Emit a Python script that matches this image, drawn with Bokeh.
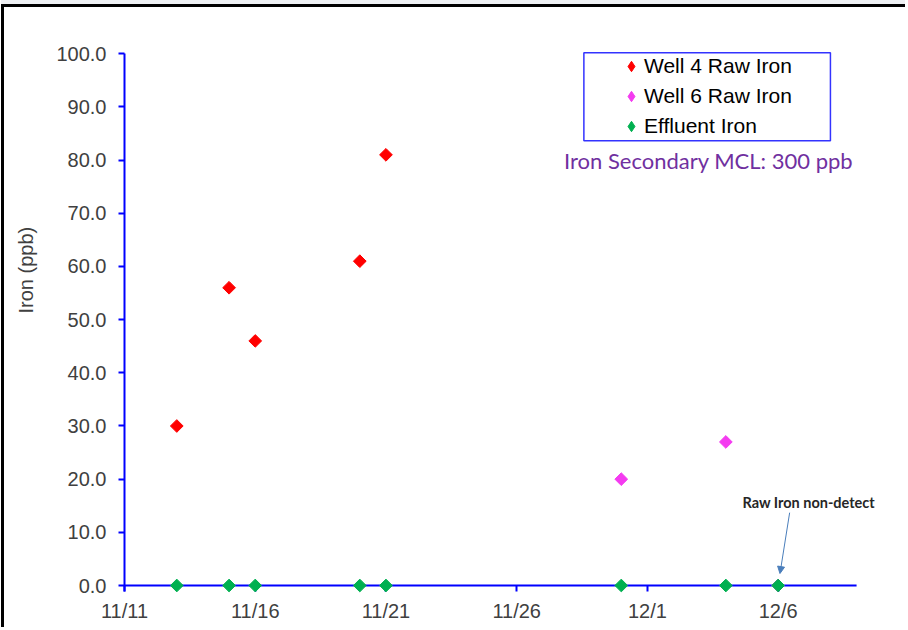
import math
import datetime as dt
from bokeh.plotting import figure
from bokeh.models import (FixedTicker, PrintfTickFormatter, Range1d, Legend, LegendItem, Title,
                          LinearAxis, BoxAnnotation, Label, Arrow, NormalHead)
from bokeh.embed import file_html
from bokeh.resources import INLINE

# ---------------- data ----------------
start_date = "2023-11-11"
well4_dates = ["2023-11-13", "2023-11-15", "2023-11-16", "2023-11-20", "2023-11-21"]
well4_iron = [30.0, 56.0, 46.0, 61.0, 81.0]
well6_dates = ["2023-11-30", "2023-12-04", "2023-12-06"]
well6_iron = [20.0, 27.0, 0.0]
eff_dates = ["2023-11-13", "2023-11-15", "2023-11-16", "2023-11-20", "2023-11-21",
             "2023-11-30", "2023-12-04", "2023-12-06"]
eff_iron = [0.0, 0.0, 0.0, 0.0, 0.0, 0.0, 0.0, 0.0]
tick_dates = ["2023-11-11", "2023-11-16", "2023-11-21", "2023-11-26", "2023-12-01", "2023-12-06"]
tick_labels = ["11/11", "11/16", "11/21", "11/26", "12/1", "12/6"]
y_ticks = [0, 10, 20, 30, 40, 50, 60, 70, 80, 90, 100]
x_end_date = "2023-12-09"

d0 = dt.date.fromisoformat(start_date)
def days(s):
    return (dt.date.fromisoformat(s) - d0).days

wx4 = [days(s) for s in well4_dates]
wx6 = [days(s) for s in well6_dates]
ex = [days(s) for s in eff_dates]
tx = [days(s) for s in tick_dates]
x_end = days(x_end_date)

FONT = "Liberation Sans"
TXT = "#404040"
BLUE = "#0000ff"
Y0 = -1.128
NAN = float("nan")

p = figure(width=904, height=623, output_backend="svg", toolbar_location=None,
           x_range=Range1d(0, 29.68), y_range=Range1d(Y0, 101),
           min_border_left=119, min_border_right=8, min_border_top=41, min_border_bottom=39,
           background_fill_color="white", border_fill_color="white")
p.styles = {"margin-left": "1px", "margin-top": "4px",
            "border-left": "3px solid black", "border-top": "3px solid black",
            "box-shadow": "0 -4px 0 0 #eef0f3"}
p.outline_line_color = None
p.xgrid.visible = False
p.ygrid.visible = False

for ax in (p.xaxis[0], p.yaxis[0]):
    ax.axis_line_color = BLUE
    ax.axis_line_width = 2
    ax.major_tick_line_color = BLUE
    ax.major_tick_line_width = 2
    ax.major_tick_out = 6
    ax.major_tick_in = 0
    ax.minor_tick_line_color = None
    ax.major_label_text_font = FONT
    ax.major_label_text_font_size = "20px"
    ax.major_label_text_color = TXT

# x axis: ticks drawn up from the frame bottom to the zero line; the visible line is at y=0
p.xaxis.axis_line_color = None
p.xaxis.major_tick_in = 6
p.xaxis.major_tick_out = 0
p.xaxis.ticker = FixedTicker(ticks=tx)
p.xaxis.major_label_overrides = {t: l for t, l in zip(tx, tick_labels)}
p.xaxis.major_label_standoff = 8

p.yaxis.ticker = FixedTicker(ticks=y_ticks)
p.yaxis.formatter = PrintfTickFormatter(format="%.1f")
p.yaxis.major_label_standoff = 12
p.yaxis[0].bounds = (Y0, 100)

# empty spacer between the value axis and the axis title
spacer = LinearAxis(ticker=FixedTicker(ticks=[]), axis_line_color=None, major_tick_line_color=None,
                    minor_tick_line_color=None, major_tick_out=0, major_tick_in=0,
                    major_label_text_font_size="0px", major_label_standoff=0,
                    axis_label=" ", axis_label_text_font_size="1px", axis_label_standoff=5)
p.add_layout(spacer, "left")

p.add_layout(Title(text="Iron (ppb)", align="left", offset=278, standoff=16,
                   text_font=FONT, text_font_size="20px", text_font_style="normal",
                   text_color=TXT), "left")

# zero line (x axis line)
p.segment(x0=[0], y0=[0], x1=[x_end], y1=[0], line_color=BLUE, line_width=2)

r4 = p.scatter(wx4, well4_iron, marker="square", size=9, angle=math.pi / 4, color="#ff0000",
               level="overlay")
r6 = p.scatter(wx6, well6_iron, marker="square", size=9, angle=math.pi / 4, color="#f43bf0",
               level="overlay")
re = p.scatter(ex, eff_iron, marker="square", size=9, angle=math.pi / 4, color="#00b050",
               level="overlay")

l4 = p.scatter(x=[NAN], y=[NAN], marker="diamond", color="#ff0000")
l6 = p.scatter(x=[NAN], y=[NAN], marker="diamond", color="#f43bf0")
le = p.scatter(x=[NAN], y=[NAN], marker="diamond", color="#00b050")

legend = Legend(items=[LegendItem(label="Well 4 Raw Iron", renderers=[l4]),
                       LegendItem(label="Well 6 Raw Iron", renderers=[l6]),
                       LegendItem(label="Effluent Iron", renderers=[le])],
                location=(494, 450), padding=0, margin=0, spacing=0,
                glyph_width=26, glyph_height=30, label_height=20, label_standoff=0,
                label_text_font=FONT, label_text_font_size="21px", label_text_color="black",
                border_line_color=None, background_fill_alpha=0)
p.add_layout(legend)

p.add_layout(BoxAnnotation(left=17.57, right=27.0, top=100.19, bottom=83.65,
                           fill_alpha=0, line_color="#3333ff", line_alpha=1, line_width=1.5))

p.add_layout(Label(x=16.81, y=79.9, text="Iron Secondary MCL: 300 ppb", text_font="Lato",
                   text_font_size="22px", text_color="#7030a0", text_align="left",
                   text_baseline="middle"))

p.add_layout(Label(x=26.17, y=15.6, text="Raw Iron non-detect", text_font="Lato",
                   text_font_size="14.5px", text_font_style="bold", text_color="#262626",
                   text_align="center", text_baseline="middle"))

p.add_layout(Arrow(x_start=25.44, y_start=13.7, x_end=25.07, y_end=2.25,
                   line_color="#4a7ebb", line_width=1,
                   end=NormalHead(size=7, fill_color="#4a7ebb", line_color="#4a7ebb")))

open("out.html", "w").write(file_html(p, INLINE))
